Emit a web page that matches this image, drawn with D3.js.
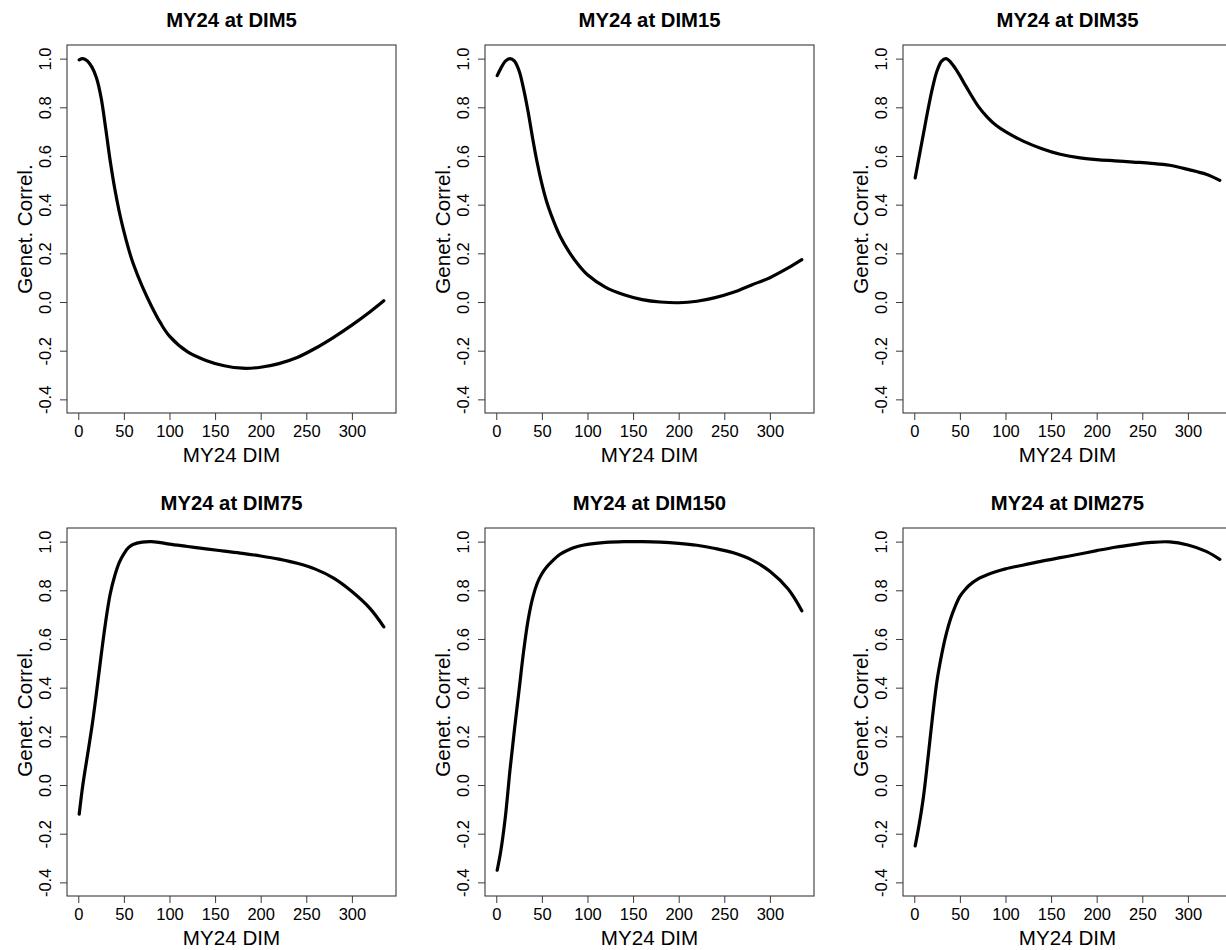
<!DOCTYPE html>
<html>
<head>
<meta charset="utf-8">
<script src="https://cdn.jsdelivr.net/npm/d3@7"></script>
<style>
  body { margin: 0; background: #fff; }
  text { font-family: "Liberation Sans", Arial, sans-serif; fill: #000; }
</style>
</head>
<body>
<script>
// days in milk sampled along each curve
var dims = [1, 5, 10, 15, 20, 25, 30, 35, 40, 45, 50, 55, 60, 70, 80, 90, 100,
            120, 140, 160, 180, 200, 220, 240, 260, 280, 300, 320, 335];

var titles = ["MY24 at DIM5", "MY24 at DIM15", "MY24 at DIM35",
              "MY24 at DIM75", "MY24 at DIM150", "MY24 at DIM275"];

var corDim5   = [0.995, 1.0, 0.99, 0.965, 0.92, 0.84, 0.715, 0.58, 0.465, 0.37, 0.29, 0.22, 0.16, 0.065,
                 -0.015, -0.085, -0.14, -0.205, -0.24, -0.262, -0.272, -0.268, -0.253, -0.228, -0.19,
                 -0.145, -0.095, -0.04, 0.005];
var corDim15  = [0.93, 0.96, 0.99, 1.0, 0.99, 0.95, 0.875, 0.78, 0.67, 0.57, 0.485, 0.415, 0.36, 0.27,
                 0.205, 0.153, 0.112, 0.06, 0.03, 0.01, 0.0, -0.003, 0.003, 0.018, 0.04, 0.07, 0.10, 0.14, 0.174];
var corDim35  = [0.51, 0.59, 0.69, 0.79, 0.88, 0.95, 0.99, 1.0, 0.985, 0.96, 0.93, 0.897, 0.865, 0.805,
                 0.76, 0.725, 0.70, 0.66, 0.63, 0.607, 0.593, 0.585, 0.58, 0.575, 0.57, 0.562, 0.545, 0.525, 0.50];
var corDim75  = [-0.12, 0.0, 0.12, 0.24, 0.38, 0.53, 0.67, 0.785, 0.86, 0.915, 0.95, 0.975, 0.988, 0.998,
                 1.0, 0.996, 0.99, 0.98, 0.97, 0.961, 0.952, 0.941, 0.928, 0.911, 0.887, 0.85, 0.795, 0.725, 0.65];
var corDim150 = [-0.35, -0.27, -0.13, 0.06, 0.23, 0.39, 0.55, 0.68, 0.77, 0.83, 0.868, 0.895, 0.915, 0.948,
                 0.968, 0.981, 0.989, 0.997, 1.0, 1.0, 0.998, 0.993, 0.985, 0.972, 0.954, 0.925, 0.878, 0.805, 0.716];
var corDim275 = [-0.25, -0.17, -0.05, 0.11, 0.28, 0.43, 0.535, 0.62, 0.685, 0.735, 0.775, 0.80, 0.82, 0.847,
                 0.864, 0.877, 0.888, 0.904, 0.92, 0.934, 0.948, 0.963, 0.977, 0.988, 0.997, 0.999, 0.986, 0.96, 0.927];

var series = [corDim5, corDim15, corDim35, corDim75, corDim150, corDim275];

var xTicks = [0, 50, 100, 150, 200, 250, 300];
var yTicks = [-0.4, -0.2, 0.0, 0.2, 0.4, 0.6, 0.8, 1.0];

var W = 1226, H = 950;
var colOff = [0, 418, 836], rowOff = [0, 483];
var boxL = 67, boxT = 45, boxW = 329, boxH = 368;

var svg = d3.select("body").append("svg")
  .attr("width", W).attr("height", H);

var x = d3.scaleLinear().domain([-12.36, 348.36]).range([0, boxW]);
var y = d3.scaleLinear().domain([-0.456, 1.056]).range([boxH, 0]);

// R prints a plain hyphen for negatives
var fmtY = function(d){ return d3.format(".1f")(d).replace("\u2212", "-"); };

var line = d3.line()
  .x(function(d){ return x(d[0]); })
  .y(function(d){ return y(d[1]); })
  .curve(d3.curveCatmullRom.alpha(0.5));

var drawPanel = function(i){
  var g = svg.append("g")
    .attr("transform", "translate(" + (colOff[i % 3] + boxL) + "," + (rowOff[Math.floor(i / 3)] + boxT) + ")");

  g.append("rect")
    .attr("width", boxW).attr("height", boxH)
    .attr("fill", "none").attr("stroke", "#3a3a3a").attr("stroke-width", 1.1);

  var xAxis = g.append("g").attr("transform", "translate(0," + boxH + ")")
    .call(d3.axisBottom(x).tickValues(xTicks).tickSize(7).tickFormat(d3.format("d")));
  xAxis.select(".domain").remove();
  xAxis.selectAll("line").attr("stroke", "#3a3a3a");
  xAxis.selectAll("text").attr("font-size", "16.5px").attr("font-family", "Liberation Sans, Arial, sans-serif")
    .attr("y", 24).attr("dy", 0);

  var yAxis = g.append("g")
    .call(d3.axisLeft(y).tickValues(yTicks).tickSize(7).tickFormat(fmtY));
  yAxis.select(".domain").remove();
  yAxis.selectAll("line").attr("stroke", "#3a3a3a");
  yAxis.selectAll("text")
    .attr("font-size", "16.5px").attr("font-family", "Liberation Sans, Arial, sans-serif")
    .attr("x", null).attr("dy", null)
    .attr("text-anchor", "middle")
    .attr("transform", "translate(-16,0) rotate(-90)");

  g.append("path")
    .datum(dims.map(function(d, k){ return [d, series[i][k]]; }))
    .attr("d", line)
    .attr("fill", "none").attr("stroke", "#000").attr("stroke-width", 3.2)
    .attr("stroke-linejoin", "round").attr("stroke-linecap", "round");

  g.append("text")
    .attr("x", boxW / 2).attr("y", -18)
    .attr("text-anchor", "middle").attr("font-weight", "bold").attr("font-size", "20.3px")
    .text(titles[i]);

  g.append("text")
    .attr("x", boxW / 2).attr("y", boxH + 49)
    .attr("text-anchor", "middle").attr("font-size", "20.6px")
    .text("MY24 DIM");

  g.append("text")
    .attr("transform", "translate(-35," + (boxH / 2) + ") rotate(-90)")
    .attr("text-anchor", "middle").attr("font-size", "20.6px")
    .text("Genet. Correl.");
};

for (var i = 0; i < 6; i++) drawPanel(i);
</script>
</body>
</html>
